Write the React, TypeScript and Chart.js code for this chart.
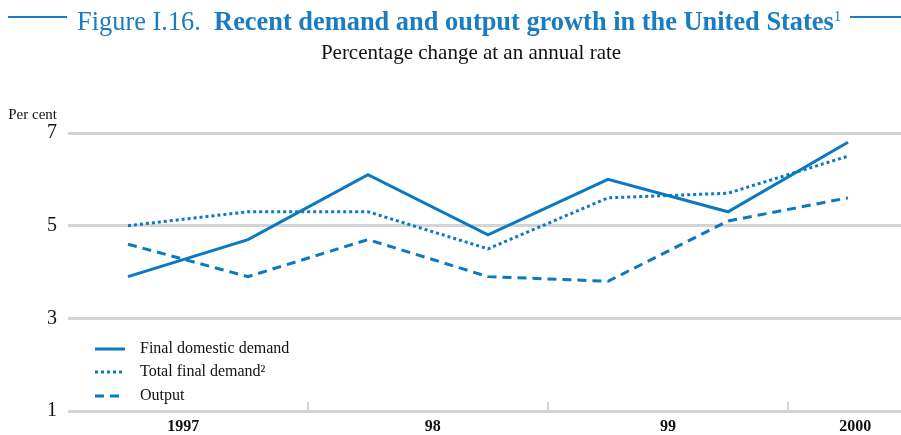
import React, { useEffect, useRef } from "react";
import { Chart, registerables } from "chart.js";

Chart.register(...registerables);

const periods = [1997.25, 1997.75, 1998.25, 1998.75, 1999.25, 1999.75, 2000.25];
const finalDomesticDemand = [3.9, 4.7, 6.1, 4.8, 6.0, 5.3, 6.8];
const totalFinalDemand = [5.0, 5.3, 5.3, 4.5, 5.6, 5.7, 6.5];
const output = [4.6, 3.9, 4.7, 3.9, 3.8, 5.1, 5.6];
const seriesNames = ["Final domestic demand", "Total final demand\u00B2", "Output"];
const xTickValues = [1997.48, 1998.52, 1999.5, 2000.28];
const xTickLabels = ["1997", "98", "99", "2000"];
const yearBoundaries = [1998, 1999, 2000];

const BLUE = "#0a79c1";
const GRID = "#d4d4d4";
const SERIF = "'Liberation Serif', 'DejaVu Serif', serif";

const decorPlugin = {
  id: "decor",
  afterDraw(chart: any) {
    const ctx = chart.ctx;
    const xs = chart.scales.x;
    const ca = chart.chartArea;
    ctx.save();
    // year boundary ticks
    ctx.strokeStyle = GRID;
    ctx.lineWidth = 2;
    yearBoundaries.forEach((v) => {
      const x = xs.getPixelForValue(v);
      ctx.beginPath();
      ctx.moveTo(x, ca.bottom - 9);
      ctx.lineTo(x, ca.bottom);
      ctx.stroke();
    });
    // y axis title
    ctx.fillStyle = "#111";
    ctx.font = `15px ${SERIF}`;
    ctx.textAlign = "right";
    ctx.textBaseline = "alphabetic";
    ctx.fillText("Per cent", 57, 119);
    // legend
    const lx = ca.left + 27;
    const rows = [349, 372, 396];
    chart.data.datasets.forEach((ds: any, i: number) => {
      const y = rows[i];
      ctx.strokeStyle = ds.borderColor;
      ctx.lineWidth = 3;
      ctx.setLineDash(ds.borderDash || []);
      ctx.beginPath();
      ctx.moveTo(lx, y);
      ctx.lineTo(lx + 30, y);
      ctx.stroke();
      ctx.setLineDash([]);
      ctx.fillStyle = "#111";
      ctx.font = `16px ${SERIF}`;
      ctx.textAlign = "left";
      ctx.textBaseline = "middle";
      ctx.fillText(ds.label, lx + 45, y);
    });
    ctx.restore();
  },
};

export default function App() {
  const ref = useRef<HTMLCanvasElement>(null);
  useEffect(() => {
    if (!ref.current) return;
    const mk = (vals: number[]) => vals.map((v, i) => ({ x: periods[i], y: v }));
    const chart = new Chart(ref.current, {
      type: "line",
      data: {
        datasets: [
          { label: seriesNames[0], data: mk(finalDomesticDemand), borderColor: BLUE, borderWidth: 3, pointRadius: 0, tension: 0 },
          { label: seriesNames[1], data: mk(totalFinalDemand), borderColor: BLUE, borderWidth: 3, borderDash: [3, 3], pointRadius: 0, tension: 0 },
          { label: seriesNames[2], data: mk(output), borderColor: BLUE, borderWidth: 3, borderDash: [9, 6], pointRadius: 0, tension: 0 },
        ],
      },
      options: {
        animation: false,
        responsive: false,
        layout: { padding: { top: 133, right: 0, left: 0, bottom: 0 } },
        plugins: { legend: { display: false }, tooltip: { enabled: false } },
        scales: {
          x: {
            type: "linear",
            min: 1997,
            max: 2000.471,
            grid: { display: false, drawTicks: false },
            border: { display: false },
            afterBuildTicks: (s: any) => {
              s.ticks = xTickValues.map((v) => ({ value: v }));
            },
            afterFit: (s: any) => {
              s.height = 24;
            },
            ticks: {
              autoSkip: false,
              maxRotation: 0,
              padding: 6,
              color: "#111",
              font: { family: SERIF, size: 16, weight: "bold" },
              callback: (v: any) => {
                const i = xTickValues.indexOf(Number(v));
                return i >= 0 ? xTickLabels[i] : "";
              },
            },
          },
          y: {
            min: 1,
            max: 7,
            grid: { color: GRID, lineWidth: 3, drawTicks: false },
            border: { display: false },
            afterFit: (s: any) => {
              s.width = 68;
            },
            ticks: {
              stepSize: 2,
              padding: 11,
              color: "#111",
              font: { family: SERIF, size: 20 },
            },
          },
        },
      },
      plugins: [decorPlugin],
    });
    return () => chart.destroy();
  }, []);

  return (
    <div style={{ position: "absolute", left: 0, top: 0, width: 901, height: 435, background: "#fff", overflow: "hidden" }}>
      <canvas ref={ref} width={901} height={435} style={{ position: "absolute", left: 0, top: 0 }} />
      <div style={{ position: "absolute", left: 8, top: 16, width: 59, height: 2, background: "#1a7cc1" }} />
      <div style={{ position: "absolute", left: 850, top: 16, width: 51, height: 2, background: "#1a7cc1" }} />
      <div
        style={{
          position: "absolute",
          left: 77,
          top: 1,
          whiteSpace: "nowrap",
          fontFamily: SERIF,
          fontSize: 26.4,
          lineHeight: "30px",
          color: "#1a7cc1",
        }}
      >
        Figure I.16.&nbsp; <b>Recent demand and output growth in the United States</b>
        <sup style={{ fontSize: 15, verticalAlign: "9px" }}>1</sup>
      </div>
      <div
        style={{
          position: "absolute",
          left: 0,
          top: 40,
          width: 942,
          textAlign: "center",
          whiteSpace: "nowrap",
          fontFamily: SERIF,
          fontSize: 21,
          lineHeight: "24px",
          color: "#111",
        }}
      >
        Percentage change at an annual rate
      </div>
    </div>
  );
}
